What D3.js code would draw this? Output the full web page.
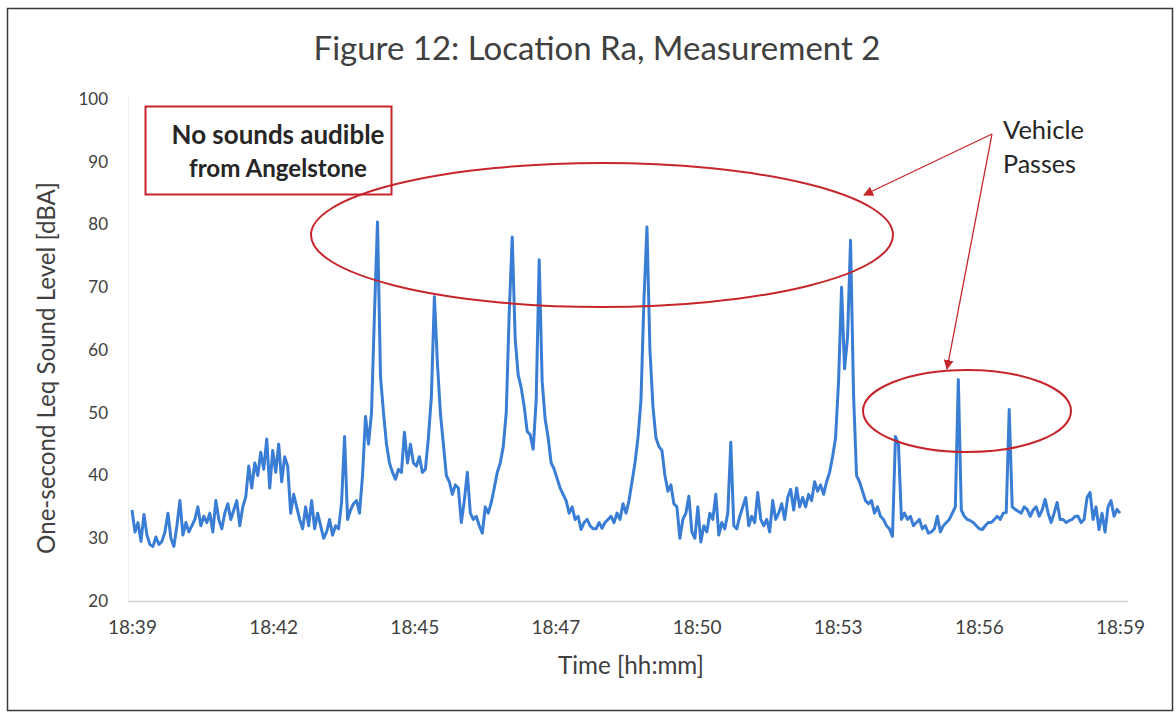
<!DOCTYPE html>
<html>
<head>
<meta charset="utf-8">
<script src="https://cdn.jsdelivr.net/npm/d3@7"></script>
<style>
  html, body { margin: 0; padding: 0; background: #fff; }
  svg { display: block; font-family: Lato, "Open Sans", sans-serif; }
</style>
</head>
<body>
<svg id="chart" width="1176" height="713"></svg>
<script>
// Category tick labels shown along the time axis (evenly spaced over the record)
const tickLabels = ["18:39", "18:42", "18:45", "18:47", "18:50", "18:53", "18:56", "18:59"];

// Sound level axis ticks [dBA]
const levelTicks = [20, 30, 40, 50, 60, 70, 80, 90, 100];

// One-second Leq record, sampled evenly from 18:39 to 18:59 [dBA]
const leq = [
  34.5, 31, 32.5, 29.5, 33.8, 30.5, 29, 28.7, 30.2, 29,
  29.5, 31, 34, 30, 28.7, 32, 36, 30.5, 32.5, 31,
  32, 33, 35, 32, 33.5, 32.5, 34, 31, 36, 33,
  31.5, 34, 35.5, 33, 34.5, 36, 32, 35, 36.6, 41.5,
  38, 42, 40, 43.7, 41, 45.8, 38, 44, 40.5, 45,
  39, 43, 41.5, 34, 37, 35, 33, 31.5, 35, 32,
  36, 31.5, 34, 32, 30, 31, 33, 30.5, 32, 31.5,
  35.7, 46.2, 33, 34.5, 35.5, 36, 34, 40, 49.4, 45,
  50, 66, 80.4, 55.8, 50, 45, 42, 40.5, 39.4, 41,
  40.5, 46.9, 42, 45, 42, 41.5, 43, 40.5, 41, 46,
  52.6, 68.5, 58, 50, 45, 40, 39, 37, 38.5, 38,
  32.5, 36, 40.5, 34, 33, 33.5, 32, 30.8, 35, 34,
  35.7, 38, 40.5, 42, 44.6, 50, 66, 78, 61.6, 56,
  54, 51, 47, 46.5, 44.2, 52, 74.4, 55, 49, 46,
  42, 41, 39.5, 38, 37, 36, 34, 35, 33, 33.5,
  31.4, 32.5, 33, 32, 31.5, 31.5, 32.5, 31.6, 32.5, 33,
  33.5, 32.5, 34, 33, 35.5, 34, 36, 39, 42, 46,
  52, 68, 79.6, 60, 51, 46, 44.6, 44, 40, 37.5,
  38.5, 35.5, 35, 30, 33, 34, 36.7, 31, 30, 35,
  29.4, 32, 31, 34, 33, 37, 30.5, 32.5, 31.5, 34,
  45.3, 32, 31.5, 33.5, 35, 36.5, 32, 33.5, 32.5, 37.3,
  33, 32, 33, 31, 36, 33, 34, 35.5, 33, 36.5,
  37.8, 34.5, 38, 35, 36.5, 35, 37, 36, 39, 37.5,
  38.5, 37, 39, 40.5, 43, 46, 55, 70, 57, 62,
  77.5, 53, 40, 39, 37.5, 36, 35.5, 36, 34, 35,
  33.5, 33, 32, 31.5, 30.3, 46.2, 45, 33, 34, 33,
  33.5, 32, 32.5, 33, 31.5, 32, 30.8, 31, 31.5, 33.5,
  31, 32, 32.5, 33, 34, 35, 55.3, 34.5, 33.5, 33,
  32.8, 32.5, 32, 31.5, 31.4, 32, 32.5, 32.5, 33, 33.5,
  33, 34, 34.1, 50.5, 35, 34.6, 34.3, 34, 35, 34.6,
  33.5, 34.5, 35, 33.5, 34.5, 36.2, 34, 32.5, 34, 35.7,
  33, 33, 32.5, 32.8, 33, 33.5, 33.5, 32.5, 33, 36.5,
  37.3, 33, 35, 31.4, 34, 31, 35, 36, 33.5, 34.6, 34
];

const chartTitle = "Figure 12: Location Ra, Measurement 2";
const yAxisTitle = "One-second Leq Sound Level [dBA]";
const xAxisTitle = "Time [hh:mm]";
const boxNote = ["No sounds audible", "from Angelstone"];
const arrowNote = ["Vehicle", "Passes"];

const svg = d3.select("#chart");
const plot = { left: 128, right: 1128, top: 99, bottom: 601 };
const lineColor = "#3a7dd4";
const noteRed = "#c6262b";
const textColor = "#404040";

// Outer chart frame
svg.append("rect")
  .attr("x", 7.5).attr("y", 8.5)
  .attr("width", 1165).attr("height", 702)
  .attr("fill", "#fff").attr("stroke", "#3a3a3a").attr("stroke-width", 1.5);

// Scales
const x = d3.scaleLinear().domain([0, leq.length - 1]).range([132, 1120]);
const y = d3.scaleLinear().domain([20, 100]).range([plot.bottom, plot.top]);

// Plot-area baseline and faint left edge
svg.append("line")
  .attr("x1", plot.left).attr("x2", plot.right)
  .attr("y1", plot.bottom + 0.5).attr("y2", plot.bottom + 0.5)
  .attr("stroke", "#d0d0d0").attr("stroke-width", 1.5);
svg.append("line")
  .attr("x1", plot.left + 0.5).attr("x2", plot.left + 0.5)
  .attr("y1", plot.top - 4).attr("y2", plot.bottom)
  .attr("stroke", "#ececec").attr("stroke-width", 1);

// Y axis
const yAxis = d3.axisLeft(y).tickValues(levelTicks).tickSize(0).tickPadding(20);
const gy = svg.append("g").attr("transform", `translate(${plot.left},0)`).call(yAxis);
gy.select(".domain").remove();
gy.selectAll("text").attr("font-size", 17).attr("fill", textColor)
  .attr("font-family", "Lato, sans-serif");

// X axis: evenly spaced category labels
const tickPos = tickLabels.map((d, i) => i * (leq.length - 1) / (tickLabels.length - 1));
const xAxis = d3.axisBottom(x).tickValues(tickPos)
  .tickFormat((d, i) => tickLabels[i]).tickSize(0).tickPadding(20);
const gx = svg.append("g").attr("transform", `translate(0,${plot.bottom})`).call(xAxis);
gx.select(".domain").remove();
gx.selectAll("text").attr("font-size", 19).attr("fill", textColor)
  .attr("font-family", "Lato, sans-serif");

// Sound level trace
const line = d3.line().x((d, i) => x(i)).y(d => y(d)).curve(d3.curveLinear);
svg.append("path")
  .datum(leq)
  .attr("d", line)
  .attr("fill", "none")
  .attr("stroke", lineColor)
  .attr("stroke-width", 3)
  .attr("stroke-linejoin", "round");

// Fit a text element to a target width by scaling its font size
function fitText(sel, width) {
  const node = sel.node();
  const fs = parseFloat(sel.attr("font-size"));
  const len = node.getComputedTextLength();
  if (len > 0) sel.attr("font-size", (fs * width / len).toFixed(2));
  return sel;
}

// Title
fitText(svg.append("text")
  .attr("x", 597).attr("y", 60)
  .attr("text-anchor", "middle")
  .attr("font-size", 26).attr("fill", textColor)
  .text(chartTitle), 567);

// Axis titles
fitText(svg.append("text")
  .attr("transform", "translate(55,368) rotate(-90)")
  .attr("text-anchor", "middle")
  .attr("font-size", 19).attr("fill", textColor)
  .text(yAxisTitle), 372);
fitText(svg.append("text")
  .attr("x", 631).attr("y", 674)
  .attr("text-anchor", "middle")
  .attr("font-size", 19).attr("fill", textColor)
  .text(xAxisTitle), 146);

// Callout box
svg.append("rect")
  .attr("x", 145.5).attr("y", 106.5)
  .attr("width", 246).attr("height", 88)
  .attr("fill", "#fff").attr("stroke", noteRed).attr("stroke-width", 2);
boxNote.forEach((t, i) => {
  fitText(svg.append("text")
    .attr("x", 278).attr("y", 144 + i * 33)
    .attr("text-anchor", "middle")
    .attr("font-size", 20).attr("font-weight", 700).attr("fill", "#262626")
    .text(t), i === 0 ? 213 : 178);
});

// Highlight ellipses
svg.append("ellipse")
  .attr("cx", 602).attr("cy", 235).attr("rx", 291).attr("ry", 72)
  .attr("fill", "none").attr("stroke", noteRed).attr("stroke-width", 2);
svg.append("ellipse")
  .attr("cx", 967).attr("cy", 411).attr("rx", 104).attr("ry", 41)
  .attr("fill", "none").attr("stroke", noteRed).attr("stroke-width", 2);

// Arrow marker
svg.append("defs").append("marker")
  .attr("id", "arrowHead")
  .attr("viewBox", "0 0 10 10")
  .attr("refX", 9).attr("refY", 5)
  .attr("markerWidth", 10).attr("markerHeight", 10)
  .attr("markerUnits", "userSpaceOnUse")
  .attr("orient", "auto")
  .append("path").attr("d", "M0,0 L10,5 L0,10 Z").attr("fill", noteRed);

// Vehicle-pass arrows
const arrowFrom = [992, 134];
[[864, 195], [947, 369]].forEach(to => {
  svg.append("line")
    .attr("x1", arrowFrom[0]).attr("y1", arrowFrom[1])
    .attr("x2", to[0]).attr("y2", to[1])
    .attr("stroke", noteRed).attr("stroke-width", 1.3)
    .attr("marker-end", "url(#arrowHead)");
});

arrowNote.forEach((t, i) => {
  fitText(svg.append("text")
    .attr("x", 1003).attr("y", 139 + i * 34)
    .attr("font-size", 22).attr("fill", "#262626")
    .text(t), i === 0 ? 81 : 73);
});
</script>
</body>
</html>
